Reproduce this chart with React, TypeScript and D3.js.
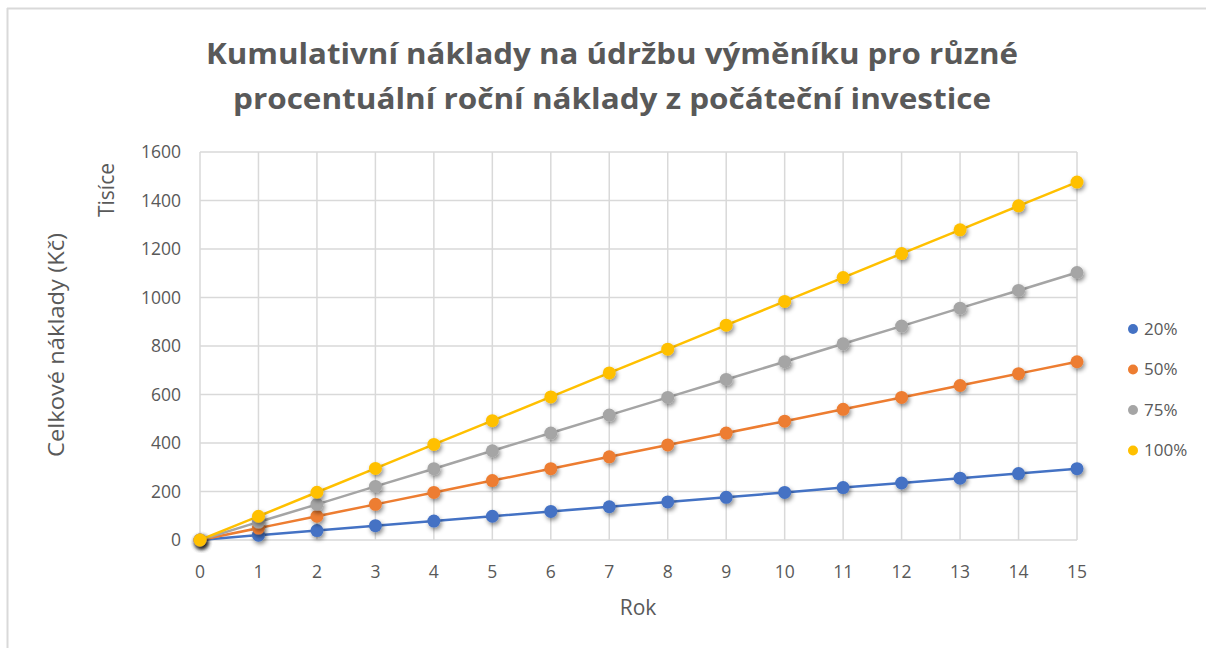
import React, { useEffect, useRef } from 'react';
import * as d3 from 'd3';

const years = [0, 1, 2, 3, 4, 5, 6, 7, 8, 9, 10, 11, 12, 13, 14, 15];
const s20 = [0, 20, 39, 59, 78, 98, 118, 137, 157, 176, 196, 216, 235, 255, 274, 294];
const s50 = [0, 49, 98, 147, 196, 245, 294, 343, 392, 441, 490, 539, 588, 637, 686, 735];
const s75 = [0, 74, 147, 221, 294, 368, 441, 515, 588, 662, 735, 809, 882, 956, 1029, 1103];
const s100 = [0, 98, 197, 295, 394, 492, 590, 689, 787, 886, 984, 1082, 1181, 1279, 1378, 1476];
const seriesNames = ['20%', '50%', '75%', '100%'];
const seriesColors = ['#4472C4', '#ED7D31', '#A5A5A5', '#FFC000'];
const yTicks = [0, 200, 400, 600, 800, 1000, 1200, 1400, 1600];
const titleLines = [
  'Kumulativní náklady na údržbu výměníku pro různé',
  'procentuální roční náklady z počáteční investice',
];

const W = 1206;
const H = 648;
const FONT = "'Open Sans', 'Noto Sans', sans-serif";

const App = () => {
  const svgRef = useRef<SVGSVGElement>(null);

  useEffect(() => {
    const svg = d3.select(svgRef.current);
    svg.selectAll('*').remove();

    const left = 200, right = 1077, top = 152, bottom = 540;
    const x = d3.scaleLinear().domain([0, 15]).range([left, right]);
    const y = d3.scaleLinear().domain([0, 1600]).range([bottom, top]);

    const defs = svg.append('defs');
    const f = defs.append('filter').attr('id', 'shadow')
      .attr('x', '-50%').attr('y', '-50%').attr('width', '200%').attr('height', '200%');
    f.append('feDropShadow').attr('dx', 1.5).attr('dy', 2.5)
      .attr('stdDeviation', 2).attr('flood-color', '#000').attr('flood-opacity', 0.45);

    // chart frame (top + left)
    svg.append('line').attr('x1', 7).attr('x2', W).attr('y1', 8.5).attr('y2', 8.5)
      .attr('stroke', '#d9d9d9').attr('stroke-width', 2);
    svg.append('line').attr('x1', 7.5).attr('x2', 7.5).attr('y1', 8).attr('y2', H)
      .attr('stroke', '#d9d9d9').attr('stroke-width', 2);

    // title
    const title = svg.append('g');
    titleLines.forEach((t, i) => {
      title.append('text')
        .attr('x', 612).attr('y', 64 + i * 45)
        .attr('text-anchor', 'middle')
        .attr('font-family', FONT)
        .attr('font-weight', 'bold')
        .attr('font-size', 29)
        .attr('fill', '#595959')
        .attr('textLength', i === 0 ? 812 : 758)
        .attr('lengthAdjust', 'spacingAndGlyphs')
        .text(t);
    });

    // gridlines
    const grid = svg.append('g').attr('stroke', '#d9d9d9').attr('stroke-width', 1.5);
    yTicks.forEach(v => {
      grid.append('line').attr('x1', left).attr('x2', right)
        .attr('y1', y(v)).attr('y2', y(v));
    });
    years.forEach(v => {
      grid.append('line').attr('x1', x(v)).attr('x2', x(v))
        .attr('y1', top).attr('y2', bottom);
    });

    // y tick labels
    svg.append('g').selectAll('text').data(yTicks).enter().append('text')
      .attr('x', 181).attr('y', d => y(d)).attr('dy', '0.35em')
      .attr('text-anchor', 'end')
      .attr('font-family', FONT).attr('font-size', 17.5).attr('fill', '#595959')
      .text(d => d);

    // x tick labels
    svg.append('g').selectAll('text').data(years).enter().append('text')
      .attr('x', d => x(d)).attr('y', 572).attr('dy', '0.35em')
      .attr('text-anchor', 'middle')
      .attr('font-family', FONT).attr('font-size', 17.5).attr('fill', '#595959')
      .text(d => d);

    // axis titles
    svg.append('text').attr('x', 638).attr('y', 608).attr('dy', '0.35em')
      .attr('text-anchor', 'middle').attr('font-family', FONT).attr('font-size', 21)
      .attr('fill', '#595959').text('Rok');
    svg.append('text').attr('transform', 'translate(57,345) rotate(-90)').attr('dy', '0.35em')
      .attr('text-anchor', 'middle').attr('font-family', FONT).attr('font-size', 21)
      .attr('fill', '#595959').attr('textLength', 224).attr('lengthAdjust', 'spacingAndGlyphs')
      .text('Celkové náklady (Kč)');
    svg.append('text').attr('transform', 'translate(107,190) rotate(-90)').attr('dy', '0.35em')
      .attr('text-anchor', 'middle').attr('font-family', FONT).attr('font-size', 21)
      .attr('fill', '#595959').text('Tisíce');

    // series
    const allSeries = [s20, s50, s75, s100];
    const line = d3.line<number>().x((_, i) => x(years[i])).y(d => y(d));
    allSeries.forEach((s, k) => {
      const g = svg.append('g');
      g.append('path').datum(s).attr('d', line).attr('fill', 'none')
        .attr('stroke', seriesColors[k]).attr('stroke-width', 2.5);
      g.selectAll('circle').data(s).enter().append('circle')
        .attr('cx', (_, i) => x(years[i])).attr('cy', d => y(d)).attr('r', 6.5)
        .attr('fill', seriesColors[k]).attr('filter', 'url(#shadow)');
    });

    // legend
    const legend = svg.append('g');
    seriesNames.forEach((n, k) => {
      const ly = 329 + k * 40.5;
      legend.append('circle').attr('cx', 1133).attr('cy', ly).attr('r', 5)
        .attr('fill', seriesColors[k]);
      legend.append('text').attr('x', 1144).attr('y', ly).attr('dy', '0.35em')
        .attr('font-family', FONT).attr('font-size', 17).attr('fill', '#595959').text(n);
    });
  }, []);

  return (
    <svg ref={svgRef} width={W} height={H}
      style={{ position: 'absolute', left: 0, top: 0, background: '#fff' }} />
  );
};

export default App;
